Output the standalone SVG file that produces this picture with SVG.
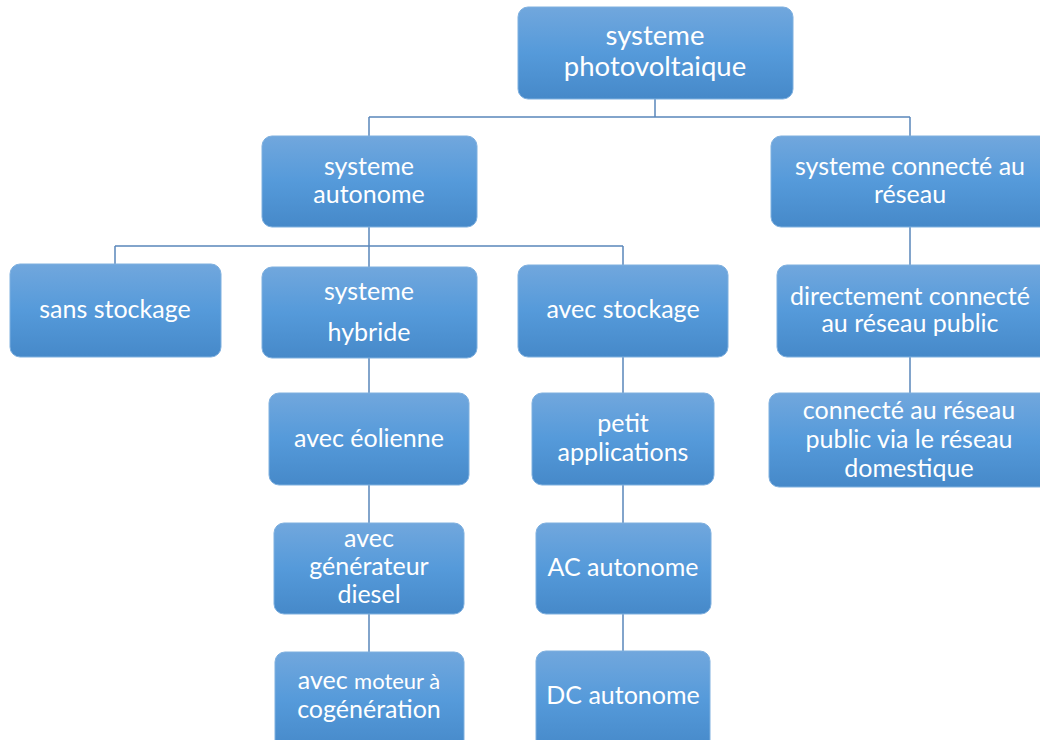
<svg xmlns="http://www.w3.org/2000/svg" width="1040" height="740" viewBox="0 0 1040 740">
<defs>
<linearGradient id="g" x1="0" y1="0" x2="0" y2="1">
<stop offset="0" stop-color="#71a7dd"/>
<stop offset="0.5" stop-color="#559ada"/>
<stop offset="1" stop-color="#4689c9"/>
</linearGradient>
</defs>
<style>
rect.n{fill:url(#g);stroke:#7fb0df;stroke-width:1}
text{font-family:Lato,"Liberation Sans",sans-serif;font-size:25px;fill:#ffffff;text-anchor:middle}
text.big{font-size:27.5px}
.c{fill:none;stroke:#5a86bb;stroke-width:1.5}
</style>
<g id="connectors">
<path class="c" d="M655,98V117M369,117H910M369,117V136M910,117V136"/>
<path class="c" d="M369,227V246M115,246H623M115,246V264M369,246V267M623,246V265"/>
<path class="c" d="M369,358V393M369,485V523M369,614V652"/>
<path class="c" d="M623,357V393M623,485V523M623,614V651"/>
<path class="c" d="M910,227V265M910,357V393"/>
</g>
<g id="root"><rect class="n" x="518" y="7" width="275" height="92" rx="10"/><text class="big" x="655" y="45">systeme</text><text class="big" x="655" y="76">photovoltaique</text></g>
<g id="autonome"><rect class="n" x="262" y="136" width="215" height="91" rx="10"/><text x="369" y="175">systeme</text><text x="369" y="203">autonome</text></g>
<g id="reseau"><rect class="n" x="771" y="136" width="280" height="91" rx="10"/><text x="910" y="175">systeme connecté au</text><text x="910" y="203">réseau</text></g>
<g id="sans"><rect class="n" x="10" y="264" width="211" height="93" rx="10"/><text x="115" y="318">sans stockage</text></g>
<g id="hybride"><rect class="n" x="262" y="267" width="215" height="91" rx="10"/><text x="369" y="300">systeme</text><text x="369" y="341">hybride</text></g>
<g id="avecstockage"><rect class="n" x="518" y="265" width="210" height="92" rx="10"/><text x="623" y="318">avec stockage</text></g>
<g id="directement"><rect class="n" x="777" y="265" width="274" height="92" rx="10"/><text x="910" y="305">directement connecté</text><text x="910" y="332">au réseau public</text></g>
<g id="eolienne"><rect class="n" x="269" y="393" width="200" height="92" rx="10"/><text x="369" y="447">avec éolienne</text></g>
<g id="petit"><rect class="n" x="532" y="393" width="182" height="92" rx="10"/><text x="623" y="432">petit</text><text x="623" y="461">applications</text></g>
<g id="via"><rect class="n" x="769" y="393" width="282" height="94" rx="10"/><text x="909" y="419">connecté au réseau</text><text x="909" y="448">public via le réseau</text><text x="909" y="477">domestique</text></g>
<g id="diesel"><rect class="n" x="274" y="523" width="190" height="91" rx="10"/><text x="369" y="547">avec</text><text x="369" y="575">générateur</text><text x="369" y="603">diesel</text></g>
<g id="ac"><rect class="n" x="536" y="523" width="175" height="91" rx="10"/><text x="623" y="576">AC autonome</text></g>
<g id="cogeneration"><rect class="n" x="275" y="652" width="189" height="98" rx="10"/><text x="369" y="689">avec <tspan font-size="22px">moteur à</tspan></text><text x="369" y="718">cogénération</text></g>
<g id="dc"><rect class="n" x="536" y="651" width="174" height="99" rx="10"/><text x="623" y="704">DC autonome</text></g>
</svg>
